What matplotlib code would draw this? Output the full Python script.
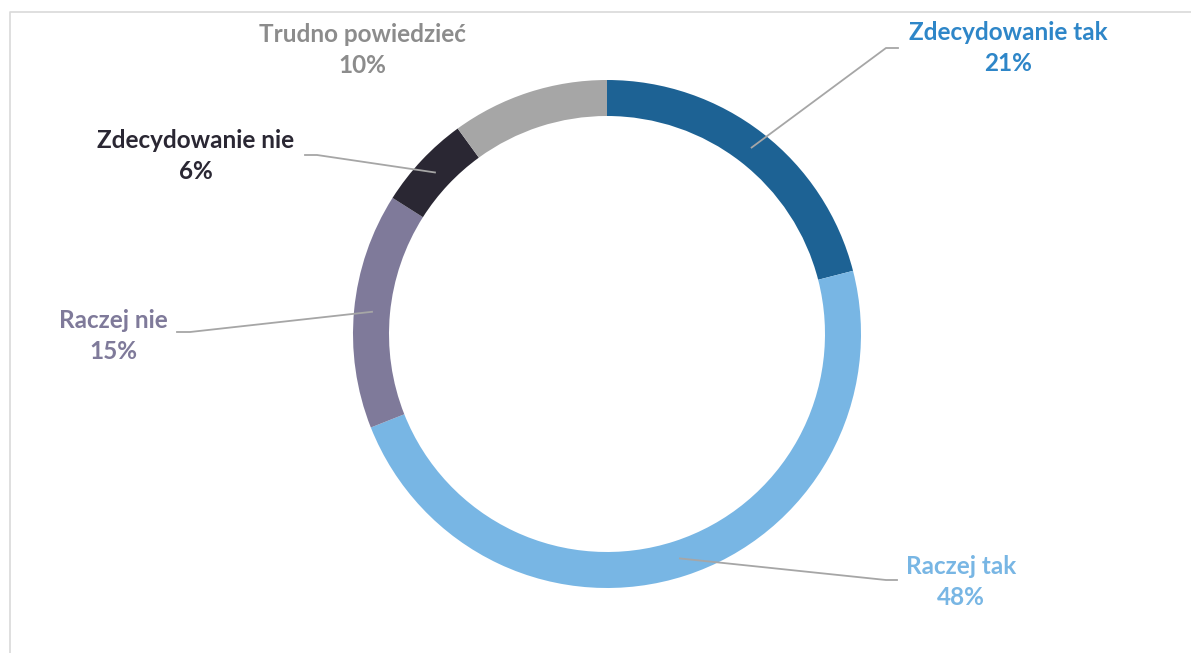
import matplotlib.pyplot as plt
import numpy as np

labels = ['Zdecydowanie tak', 'Raczej tak', 'Raczej nie', 'Zdecydowanie nie', 'Trudno powiedzieć']
values = [21, 48, 15, 6, 10]
colors = ['#1d6294', '#78b6e4', '#7f7a9a', '#2a2733', '#a6a6a6']
text_colors = ['#2e86c8', '#78b6e4', '#7f7a9a', '#2a2733', '#8c8c8c']

W, H = 1191, 653
CX, CY = 607, 334
R, RING = 254, 36

# label centres and leader elbows, in image pixels (y down)
label_pos = [(1008, 48), (961, 582), (113, 336), (196, 156), (362, 50)]
elbows = [[(886, 48), (898, 48)], [(886, 580), (897, 580)],
          [(190, 332), (177, 332)], [(317, 155), (305, 155)], None]

plt.rcParams['font.family'] = ['Lato', 'DejaVu Sans']

fig = plt.figure(figsize=(W / 100, H / 100), dpi=100)
ax = fig.add_axes([0, 0, 1, 1])

ax.pie(values, colors=colors, startangle=90, counterclock=False,
       center=(CX, H - CY), radius=R,
       wedgeprops=dict(width=RING, linewidth=0), frame=True)
ax.set_xlim(0, W)
ax.set_ylim(0, H)
ax.set_aspect('equal')
ax.axis('off')

# outer frame of the chart area
ax.plot([10, 10, W], [0, H - 12, H - 12], color='#d9d9d9', lw=1.2)

cum = np.cumsum([0] + values[:-1])
for i, lab in enumerate(labels):
    mid = np.deg2rad(90 - (cum[i] + values[i] / 2) * 3.6)
    rm = R - RING / 2
    sx, sy = CX + rm * np.cos(mid), H - CY + rm * np.sin(mid)
    if elbows[i] is not None:
        pts = [(sx, sy)] + [(x, H - y) for x, y in elbows[i]]
        xs, ys = zip(*pts)
        ax.plot(xs, ys, color='#a6a6a6', lw=1.3)
    lx, ly = label_pos[i]
    ax.text(lx, H - ly, f'{lab}\n{values[i]}%', ha='center', va='center',
            fontsize=17.5, fontweight='bold', color=text_colors[i], linespacing=1.4)

fig.savefig('out.png', dpi=100)
